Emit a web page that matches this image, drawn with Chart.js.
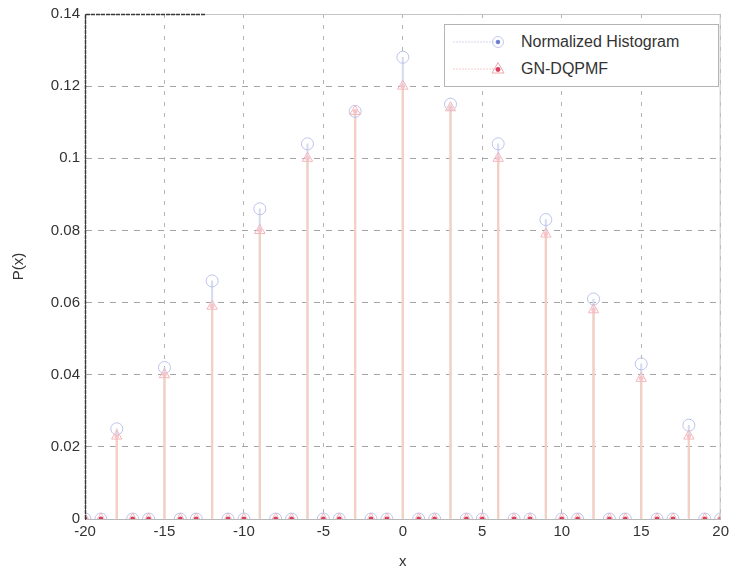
<!DOCTYPE html>
<html>
<head>
<meta charset="utf-8">
<title>P(x)</title>
<script src="https://cdn.jsdelivr.net/npm/chart.js@4"></script>
<style>
    body {
        margin: 0;
        background: #fff;
        font-family: "Liberation Sans", Arial, sans-serif;
    }
    .chart-box {
        position: relative;
        width: 733px;
        height: 575px;
    }
    .legend {
        position: absolute;
        left: 444px;
        top: 24px;
        width: 273px;
        height: 61px;
        border: 1px solid #b4b4b4;
        background: #fff;
        font-size: 16px;
        color: #333;
    }
    .legend__row {
        position: absolute;
        left: 6px;
        height: 20px;
        display: flex;
        align-items: center;
    }
    .legend__row svg {
        margin-right: 14px;
    }
</style>
</head>
<body>
<div class="chart-box">
    <canvas id="pmf-chart" width="733" height="575"></canvas>
    <div class="legend">
        <div class="legend__row" style="top: 7px;">
            <svg width="56" height="20">
                <line x1="2" y1="10" x2="46" y2="10" stroke="#d3d8f0" stroke-width="1" stroke-dasharray="2 1"/>
                <circle cx="47" cy="10" r="5.5" fill="none" stroke="#c2c9ee" stroke-width="1"/>
                <circle cx="47" cy="10" r="2.2" fill="#6f7fd0"/>
            </svg>
            <span>Normalized Histogram</span>
        </div>
        <div class="legend__row" style="top: 34px;">
            <svg width="56" height="20">
                <line x1="2" y1="10" x2="46" y2="10" stroke="#f4cccc" stroke-width="1" stroke-dasharray="2 1"/>
                <polygon points="47,3.5 53,14 41,14" fill="none" stroke="#f0a9ae" stroke-width="1"/>
                <circle cx="47" cy="10.5" r="2.4" fill="#d9405e"/>
            </svg>
            <span>GN-DQPMF</span>
        </div>
    </div>
</div>
<script>
const xValues = [-20, -19, -18, -17, -16, -15, -14, -13, -12, -11, -10, -9, -8, -7, -6, -5, -4, -3, -2, -1,
    0, 1, 2, 3, 4, 5, 6, 7, 8, 9, 10, 11, 12, 13, 14, 15, 16, 17, 18, 19, 20];
const histValues = [0, 0, 0.025, 0, 0, 0.042, 0, 0, 0.066, 0, 0, 0.086, 0, 0, 0.104, 0, 0, 0.113, 0, 0,
    0.128, 0, 0, 0.115, 0, 0, 0.104, 0, 0, 0.083, 0, 0, 0.061, 0, 0, 0.043, 0, 0, 0.026, 0, 0];
const pmfValues = [0, 0, 0.023, 0, 0, 0.040, 0, 0, 0.059, 0, 0, 0.080, 0, 0, 0.100, 0, 0, 0.113, 0, 0,
    0.120, 0, 0, 0.114, 0, 0, 0.100, 0, 0, 0.079, 0, 0, 0.058, 0, 0, 0.039, 0, 0, 0.023, 0, 0];
const xTickLabels = ['-20', '-15', '-10', '-5', '0', '5', '10', '15', '20'];
const yTickLabels = ['0', '0.02', '0.04', '0.06', '0.08', '0.1', '0.12', '0.14'];

const FONT = "'Liberation Sans', Arial, sans-serif";

function toPoints(values) {
    return xValues.map((x, i) => ({ x: x, y: values[i] }));
}

// box around the plot area: dark left/top-left edge, light top/right edges
const frame = {
    id: 'frame',
    afterDraw(chart) {
        const { ctx, chartArea: a } = chart;
        ctx.save();
        ctx.lineWidth = 1;
        ctx.strokeStyle = '#c4c4c4';
        ctx.beginPath();
        ctx.moveTo(a.left + 120, a.top + 0.5);
        ctx.lineTo(a.right - 0.5, a.top + 0.5);
        ctx.lineTo(a.right - 0.5, a.bottom);
        ctx.stroke();
        ctx.strokeStyle = '#3a3a3a';
        ctx.lineWidth = 1.5;
        ctx.setLineDash([4, 1]);
        ctx.beginPath();
        ctx.moveTo(a.left + 120, a.top + 0.5);
        ctx.lineTo(a.left + 0.5, a.top + 0.5);
        ctx.lineTo(a.left + 0.5, a.bottom);
        ctx.stroke();
        ctx.restore();
    }
};

const ctx = document.getElementById('pmf-chart').getContext('2d');
new Chart(ctx, {
    type: 'scatter',
    data: {
        datasets: [
            {
                type: 'bar',
                label: 'hist stems',
                data: toPoints(histValues),
                backgroundColor: '#d8dcf0',
                barThickness: 1.5,
                grouped: false,
                order: 4
            },
            {
                type: 'bar',
                label: 'pmf stems',
                data: toPoints(pmfValues),
                backgroundColor: '#f5d0c0',
                barThickness: 1.5,
                grouped: false,
                order: 3
            },
            {
                label: 'Normalized Histogram',
                data: toPoints(histValues),
                pointStyle: 'circle',
                pointRadius: 6,
                pointBorderWidth: 1,
                pointBorderColor: '#bcc4ec',
                pointBackgroundColor: 'rgba(0,0,0,0)',
                order: 2
            },
            {
                label: 'GN-DQPMF',
                data: toPoints(pmfValues),
                pointStyle: 'triangle',
                pointRadius: 6,
                pointBorderWidth: 1,
                pointBorderColor: '#f3b6ba',
                pointBackgroundColor: 'rgba(0,0,0,0)',
                order: 1
            },
            {
                label: 'centres',
                data: toPoints(pmfValues),
                pointStyle: 'circle',
                pointRadius: 2.4,
                pointBorderWidth: 0,
                pointBackgroundColor: (c) => (c.raw && c.raw.y > 0 ? '#f5c4ca' : '#d9405e'),
                order: 0
            }
        ]
    },
    options: {
        responsive: false,
        animation: false,
        layout: {
            padding: { left: 0, right: 10, top: 14, bottom: 0 }
        },
        plugins: {
            legend: { display: false },
            tooltip: { enabled: false }
        },
        scales: {
            x: {
                type: 'linear',
                min: -20,
                max: 20,
                offset: false,
                afterFit(scale) { scale.height = 56; },
                afterBuildTicks(scale) {
                    scale.ticks = xTickLabels.map(t => ({ value: Number(t) }));
                },
                ticks: {
                    color: '#333',
                    font: { family: FONT, size: 15 },
                    padding: 4,
                    maxRotation: 0,
                    callback: (v, i) => xTickLabels[i]
                },
                grid: {
                    offset: false,
                    color: '#b4b4b4',
                    lineWidth: 1,
                    drawTicks: false
                },
                border: {
                    display: true,
                    color: '#b8b8b8',
                    dash: [4, 7]
                },
                title: {
                    display: true,
                    text: 'x',
                    color: '#333',
                    font: { family: FONT, size: 15 },
                    padding: { top: 0, bottom: 4 }
                }
            },
            y: {
                min: 0,
                max: 0.14,
                afterFit(scale) { scale.width = 85; },
                afterBuildTicks(scale) {
                    scale.ticks = yTickLabels.map(t => ({ value: Number(t) }));
                },
                ticks: {
                    color: '#333',
                    font: { family: FONT, size: 15 },
                    padding: 5,
                    callback: (v, i) => yTickLabels[i]
                },
                grid: {
                    color: '#a4a4a4',
                    lineWidth: 1,
                    drawTicks: false
                },
                border: {
                    display: true,
                    color: '#4a4a4a',
                    dash: [6, 6]
                },
                title: {
                    display: true,
                    text: 'P(x)',
                    color: '#333',
                    font: { family: FONT, size: 15 },
                    padding: { top: 10, bottom: 0 }
                }
            }
        }
    },
    plugins: [frame]
});
</script>
</body>
</html>
